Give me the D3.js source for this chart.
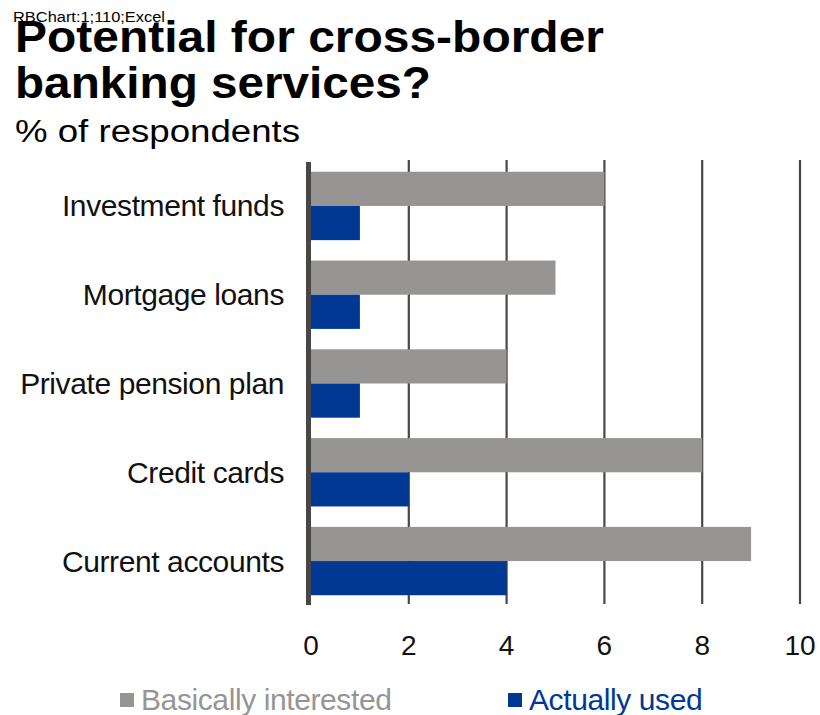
<!DOCTYPE html>
<html>
<head>
<meta charset="utf-8">
<script src="https://cdn.jsdelivr.net/npm/d3@7"></script>
<style>
  body { margin: 0; background: #fff; }
  text { font-family: "Liberation Sans", Arial, sans-serif; }
</style>
</head>
<body>
<svg id="chart"></svg>
<script>
const categories = ['Investment funds', 'Mortgage loans', 'Private pension plan', 'Credit cards', 'Current accounts'];
const interested = [6, 5, 4, 8, 9];
const used = [1, 1, 1, 2, 4];
const seriesNames = ['Basically interested', 'Actually used'];
const ticks = [0, 2, 4, 6, 8, 10];

const width = 820;
const height = 715;
const grey = '#969594';
const blue = '#003893';
const dark = '#4a4646';

const svg = d3.select('#chart')
  .attr('width', width)
  .attr('height', height);

// header
svg.append('text')
  .text('RBChart:1;110;Excel')
  .attr('x', 13).attr('y', 22)
  .attr('font-size', 14)
  .attr('textLength', 152).attr('lengthAdjust', 'spacingAndGlyphs')
  .attr('fill', '#000');

const title = svg.append('g').attr('font-weight', 'bold').attr('font-size', 45);
title.append('text').text('Potential for cross-border')
  .attr('x', 15).attr('y', 52)
  .attr('textLength', 589).attr('lengthAdjust', 'spacingAndGlyphs');
title.append('text').text('banking services?')
  .attr('x', 15).attr('y', 98)
  .attr('textLength', 416).attr('lengthAdjust', 'spacingAndGlyphs');

svg.append('text').text('% of respondents')
  .attr('x', 15).attr('y', 142)
  .attr('font-size', 31)
  .attr('textLength', 285).attr('lengthAdjust', 'spacingAndGlyphs');

// scales
const x = d3.scaleLinear().domain([0, 10]).range([311, 800]);
const y = d3.scaleBand().domain(categories).range([162, 605]).paddingInner(0.23).paddingOuter(0.11);

// gridlines
svg.append('g')
  .selectAll('line')
  .data(ticks.slice(1))
  .enter()
  .append('line')
  .attr('x1', d => x(d)).attr('x2', d => x(d))
  .attr('y1', 160).attr('y2', 604)
  .attr('stroke', dark)
  .attr('stroke-width', 2.2);

// bars
const bars = svg.append('g');
bars.selectAll('rect.int')
  .data(categories)
  .enter()
  .append('rect')
  .attr('class', 'int')
  .attr('x', x(0))
  .attr('y', d => y(d))
  .attr('width', (d, i) => x(interested[i]) - x(0))
  .attr('height', y.bandwidth() / 2)
  .attr('fill', grey);

bars.selectAll('rect.used')
  .data(categories)
  .enter()
  .append('rect')
  .attr('class', 'used')
  .attr('x', x(0))
  .attr('y', d => y(d) + y.bandwidth() / 2)
  .attr('width', (d, i) => x(used[i]) - x(0))
  .attr('height', y.bandwidth() / 2)
  .attr('fill', blue);

// vertical axis line
svg.append('line')
  .attr('x1', x(0) - 2.5).attr('x2', x(0) - 2.5)
  .attr('y1', 162).attr('y2', 605)
  .attr('stroke', dark)
  .attr('stroke-width', 5);

// category labels
svg.append('g')
  .selectAll('text')
  .data(categories)
  .enter()
  .append('text')
  .text(d => d)
  .attr('x', 284)
  .attr('y', d => y(d) + y.bandwidth() / 2)
  .attr('dy', '0.35em')
  .attr('text-anchor', 'end')
  .attr('font-size', 30)
  .attr('letter-spacing', -0.4)
  .attr('fill', '#111');

// tick labels
svg.append('g')
  .selectAll('text')
  .data(ticks)
  .enter()
  .append('text')
  .text(d => d)
  .attr('x', d => x(d))
  .attr('y', 655)
  .attr('text-anchor', 'middle')
  .attr('font-size', 28)
  .attr('fill', '#111');

// legend
const legendPos = [120, 508];
const legendColors = [grey, blue];
const legend = svg.append('g');
legend.selectAll('rect')
  .data(seriesNames)
  .enter()
  .append('rect')
  .attr('x', (d, i) => legendPos[i])
  .attr('y', 693)
  .attr('width', 14).attr('height', 14)
  .attr('fill', (d, i) => legendColors[i]);
legend.selectAll('text')
  .data(seriesNames)
  .enter()
  .append('text')
  .text(d => d)
  .attr('x', (d, i) => legendPos[i] + 21)
  .attr('y', 710)
  .attr('font-size', 30)
  .attr('letter-spacing', -0.4)
  .attr('fill', (d, i) => legendColors[i]);
</script>
</body>
</html>
